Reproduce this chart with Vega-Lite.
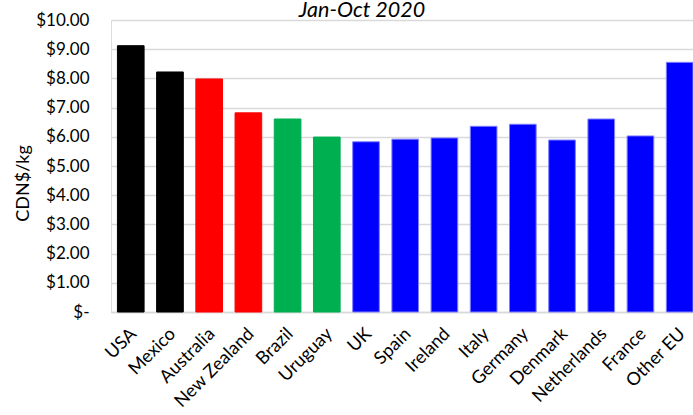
{
  "$schema": "https://vega.github.io/schema/vega-lite/v6.json",
  "autosize": "none",
  "padding": {"left": 111, "top": 20, "right": 0, "bottom": 103},
  "width": 582,
  "height": 292,
  "background": "white",
  "title": {
    "text": "Jan-Oct 2020",
    "font": "Lato",
    "fontSize": 21.5,
    "fontStyle": "italic",
    "fontWeight": "normal",
    "color": "#000000",
    "anchor": "middle",
    "frame": "group",
    "dx": -40,
    "offset": -10
  },
  "data": {
    "values": [
      {"country": "USA", "value": 9.12, "group": "A"},
      {"country": "Mexico", "value": 8.22, "group": "A"},
      {"country": "Australia", "value": 7.98, "group": "B"},
      {"country": "New Zealand", "value": 6.82, "group": "B"},
      {"country": "Brazil", "value": 6.61, "group": "C"},
      {"country": "Uruguay", "value": 5.99, "group": "C"},
      {"country": "UK", "value": 5.83, "group": "D"},
      {"country": "Spain", "value": 5.92, "group": "D"},
      {"country": "Ireland", "value": 5.96, "group": "D"},
      {"country": "Italy", "value": 6.36, "group": "D"},
      {"country": "Germany", "value": 6.43, "group": "D"},
      {"country": "Denmark", "value": 5.89, "group": "D"},
      {"country": "Netherlands", "value": 6.61, "group": "D"},
      {"country": "France", "value": 6.03, "group": "D"},
      {"country": "Other EU", "value": 8.55, "group": "D"}
    ]
  },
  "mark": {"type": "bar", "strokeWidth": 1},
  "encoding": {
    "x": {
      "field": "country",
      "type": "nominal",
      "sort": null,
      "scale": {"paddingInner": 0.32, "paddingOuter": 0.082, "align": 1},
      "axis": {
        "title": null,
        "labelAngle": -45,
        "labelAlign": "right",
        "labelBaseline": "middle",
        "labelFont": "Lato",
        "labelFontSize": 18,
        "labelColor": "#000000",
        "labelPadding": 19,
        "labelOffset": 3,
        "ticks": false,
        "domain": true,
        "domainColor": "#d9d9d9",
        "domainWidth": 1.5,
        "grid": false
      }
    },
    "y": {
      "field": "value",
      "type": "quantitative",
      "scale": {"domain": [0, 10], "nice": false},
      "axis": {
        "title": "CDN$/kg",
        "titleFont": "Lato",
        "titleFontSize": 18,
        "titleFontWeight": "normal",
        "titleColor": "#000000",
        "titlePadding": 3,
        "titleY": 163,
        "values": [0, 1, 2, 3, 4, 5, 6, 7, 8, 9, 10],
        "labelExpr": "datum.value == 0 ? '$-' : '$' + format(datum.value, '.2f')",
        "labelFont": "Lato",
        "labelFontSize": 17,
        "labelColor": "#000000",
        "labelPadding": 22,
        "ticks": false,
        "domain": false,
        "grid": true,
        "gridColor": "#d9d9d9",
        "gridWidth": 1.5
      }
    },
    "color": {
      "field": "group",
      "type": "nominal",
      "scale": {"domain": ["A", "B", "C", "D"], "range": ["#000000", "#ff0000", "#00b050", "#0000ff"]},
      "legend": null
    },
    "stroke": {
      "field": "group",
      "type": "nominal",
      "scale": {"domain": ["A", "B", "C", "D"], "range": ["#000000", "#ff0000", "#00b050", "#8080ff"]},
      "legend": null
    }
  }
}
